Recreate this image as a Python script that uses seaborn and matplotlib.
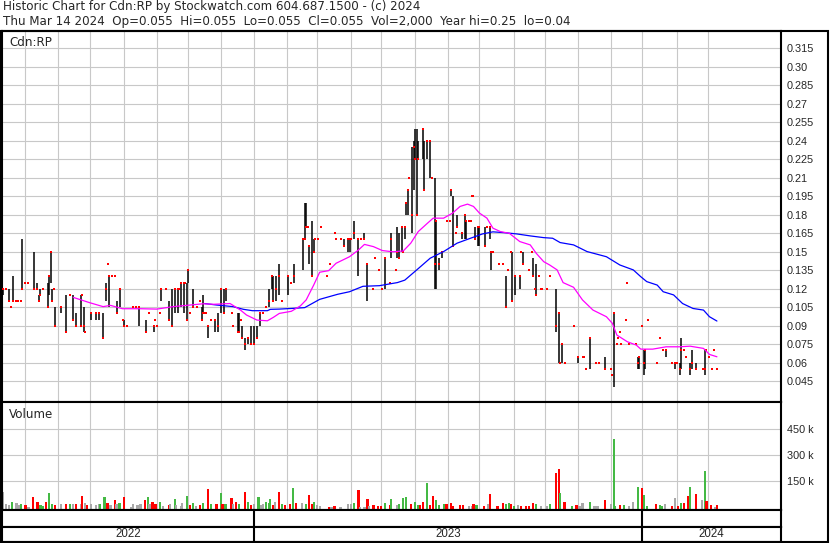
import matplotlib
matplotlib.use("Agg")
import matplotlib.pyplot as plt
import pandas as pd
import seaborn as sns
from matplotlib.patches import Rectangle
from matplotlib.transforms import blended_transform_factory


# window of trading days, day index 0 = start_date
start_date = "2022-05-11"
end_date = "2024-03-14"

header_top = "Historic Chart for Cdn:RP by Stockwatch.com 604.687.1500 - (c) 2024"
header_quote = "Thu Mar 14 2024  Op=0.055  Hi=0.055  Lo=0.055  Cl=0.055  Vol=2,000  Year hi=0.25  lo=0.04"
symbol = "Cdn:RP"
volume_title = "Volume"

# daily bars (only days that traded)
bar_day = [
    0, 2, 4, 5, 7, 9, 10, 12, 13, 15,
    17, 21, 23, 24, 25, 27, 30, 31, 32, 33,
    34, 35, 39, 42, 45, 47, 49, 52, 53, 54,
    55, 59, 62, 64, 67, 69, 70, 71, 73, 75,
    76, 78, 80, 81, 83, 87, 89, 91, 96, 98,
    101, 102, 103, 105, 106, 109, 111, 113, 115, 117,
    118, 119, 121, 122, 123, 124, 125, 127, 130, 132,
    133, 134, 135, 136, 137, 139, 142, 144, 146, 148,
    149, 153, 154, 157, 158, 159, 160, 162, 164, 166,
    168, 170, 172, 174, 176, 178, 180, 181, 183, 185,
    187, 191, 193, 195, 201, 202, 203, 204, 205, 207,
    208, 209, 211, 213, 217, 219, 222, 223, 226, 228,
    231, 232, 233, 235, 238, 240, 242, 244, 248, 249,
    252, 254, 256, 259, 260, 263, 264, 265, 267, 268,
    269, 270, 271, 272, 274, 275, 276, 277, 278, 281,
    282, 284, 286, 287, 289, 290, 292, 294, 297, 299,
    300, 301, 303, 304, 307, 309, 310, 312, 313, 314,
    315, 316, 318, 319, 323, 324, 326, 327, 328, 332,
    335, 337, 338, 340, 341, 343, 346, 347, 348, 352,
    354, 355, 356, 357, 359, 360, 361, 364, 366, 370,
    372, 373, 374, 376, 382, 385, 388, 389, 390, 393,
    397, 399, 403, 407, 408, 409, 411, 412, 413, 414,
    417, 418, 419, 424, 425, 426, 428, 429, 430, 432,
    438, 440, 442, 444, 448, 450, 451, 453, 454, 456,
    457, 460, 461, 464, 469, 470, 471, 473, 475, 476,
    478,
]
bar_high = [
    .12, .12, .12, .105, .13, .11, .11, .11, .16, .125,
    .125, .15, .125, .115, .12, .12, .125, .13, .15, .12,
    .12, .105, .105, .115, .115, .115, .10, .115, .115, .105,
    .085, .10, .10, .10, .10, .125, .14, .13, .13, .13,
    .11, .12, .095, .095, .09, .105, .105, .105, .095, .10,
    .09, .095, .09, .10, .12, .12, .11, .12, .12, .12,
    .12, .125, .125, .125, .125, .135, .10, .12, .105, .11,
    .105, .115, .10, .10, .09, .095, .095, .10, .12, .12,
    .12, .10, .09, .10, .10, .095, .09, .08, .08, .09,
    .09, .09, .10, .10, .105, .12, .13, .13, .13, .14,
    .11, .13, .125, .14, .16, .19, .19, .17, .155, .175,
    .16, .16, .16, .17, .13, .14, .165, .16, .16, .16,
    .16, .16, .16, .175, .16, .16, .165, .14, .12, .145,
    .135, .12, .145, .125, .165, .135, .17, .165, .17, .15,
    .17, .19, .20, .21, .235, .24, .25, .25, .24, .25,
    .24, .24, .24, .21, .21, .175, .145, .15, .175, .175,
    .20, .195, .165, .18, .165, .18, .175, .175, .175, .195,
    .195, .17, .17, .17, .17, .17, .17, .15, .15, .14,
    .14, .13, .135, .15, .15, .13, .13, .15, .15, .135,
    .15, .145, .12, .14, .13, .12, .12, .12, .13, .12,
    .10, .06, .075, .06, .09, .065, .065, .065, .055, .08,
    .06, .06, .065, .055, .05, .10, .075, .08, .085, .075,
    .095, .125, .075, .075, .065, .065, .09, .07, .07, .095,
    .06, .08, .07, .07, .06, .06, .06, .06, .08, .07,
    .065, .06, .07, .06, .055, .07, .07, .065, .055, .07,
    .055,
]
bar_low = [
    .115, .12, .11, .105, .11, .11, .11, .11, .12, .125,
    .125, .12, .12, .11, .115, .12, .105, .115, .125, .11,
    .12, .09, .10, .085, .115, .095, .09, .09, .115, .085,
    .085, .095, .095, .095, .08, .11, .14, .105, .13, .13,
    .10, .105, .095, .09, .09, .105, .105, .09, .085, .10,
    .085, .095, .09, .10, .11, .12, .095, .09, .10, .10,
    .12, .105, .10, .125, .095, .125, .10, .105, .105, .11,
    .095, .10, .10, .10, .08, .095, .085, .085, .10, .10,
    .11, .10, .09, .085, .085, .095, .08, .07, .075, .075,
    .075, .08, .09, .10, .105, .105, .12, .11, .11, .115,
    .11, .115, .125, .125, .135, .16, .17, .17, .14, .13,
    .15, .16, .16, .17, .13, .14, .165, .16, .16, .155,
    .15, .15, .16, .16, .13, .16, .16, .11, .12, .145,
    .135, .12, .12, .125, .145, .135, .145, .145, .15, .15,
    .16, .18, .18, .21, .165, .20, .225, .18, .225, .225,
    .20, .225, .21, .21, .12, .12, .135, .145, .175, .175,
    .195, .155, .165, .17, .16, .16, .16, .175, .175, .195,
    .195, .16, .155, .155, .155, .17, .16, .135, .15, .14,
    .14, .105, .135, .15, .11, .115, .12, .15, .14, .135,
    .15, .13, .12, .115, .13, .12, .12, .12, .13, .085,
    .06, .06, .06, .06, .09, .06, .065, .065, .055, .055,
    .06, .06, .055, .055, .05, .04, .075, .08, .085, .075,
    .095, .125, .075, .075, .055, .055, .09, .05, .055, .095,
    .06, .08, .07, .065, .06, .055, .06, .05, .055, .07,
    .065, .05, .055, .055, .055, .05, .07, .065, .055, .07,
    .055,
]
bar_close = [
    .12, .12, .11, .105, .11, .11, .11, .11, .12, .125,
    .125, .12, .12, .11, .115, .12, .105, .13, .15, .11,
    .12, .09, .105, .085, .115, .095, .09, .09, .115, .09,
    .085, .10, .10, .10, .08, .12, .14, .13, .13, .13,
    .10, .12, .095, .09, .09, .105, .105, .105, .085, .10,
    .09, .095, .09, .10, .12, .12, .095, .09, .12, .12,
    .12, .125, .125, .125, .095, .135, .10, .105, .105, .11,
    .095, .10, .10, .10, .09, .095, .095, .09, .12, .10,
    .12, .10, .09, .085, .085, .095, .08, .075, .08, .075,
    .075, .08, .10, .10, .105, .11, .13, .11, .12, .13,
    .11, .13, .125, .13, .16, .16, .17, .17, .155, .13,
    .15, .16, .16, .17, .13, .14, .165, .16, .16, .155,
    .16, .16, .16, .165, .16, .16, .16, .14, .12, .145,
    .135, .12, .145, .125, .16, .135, .15, .145, .17, .15,
    .17, .19, .20, .21, .18, .235, .225, .18, .225, .25,
    .20, .24, .24, .21, .14, .175, .14, .15, .175, .175,
    .20, .155, .165, .17, .165, .18, .175, .175, .175, .195,
    .195, .16, .17, .17, .155, .17, .17, .15, .15, .14,
    .14, .105, .135, .15, .11, .13, .13, .15, .14, .135,
    .15, .13, .12, .115, .13, .12, .12, .12, .13, .09,
    .10, .06, .075, .06, .09, .065, .065, .065, .055, .08,
    .06, .06, .055, .055, .05, .10, .075, .08, .085, .075,
    .095, .125, .075, .075, .06, .065, .09, .06, .07, .095,
    .06, .08, .07, .07, .06, .06, .06, .055, .07, .07,
    .065, .055, .06, .055, .055, .055, .07, .065, .055, .07,
    .055,
]

# moving averages (pink = short, blue = long)
ma_short_day = [
    47, 58, 67, 72, 80, 92, 103, 114, 127, 134,
    141, 152, 159, 163, 170, 177, 181, 185, 193, 199,
    203, 208, 212, 218, 223, 232, 238, 242, 248, 254,
    261, 268, 273, 278, 284, 288, 295, 301, 306, 311,
    315, 319, 324, 328, 333, 339, 346, 353, 357, 362,
    366, 371, 375, 382, 388, 395, 404, 408, 411, 418,
    424, 427, 435, 444, 453, 460, 469, 473, 478,
]
ma_short = [
    .113, .1087, .1055, .1065, .1038, .1038, .1035, .1055, .107, .1078,
    .1074, .108, .1027, .0987, .0946, .094, .0968, .100, .1017, .106,
    .111, .123, .1334, .1347, .1407, .146, .1515, .156, .1542, .151,
    .150, .1507, .157, .1664, .173, .1773, .1773, .1814, .1868, .1887,
    .1868, .1814, .1773, .1692, .1664, .165, .1583, .1556, .1488, .142,
    .1393, .1353, .125, .1212, .1109, .1027, .0973, .0919, .0824, .077,
    .0743, .071, .071, .0729, .0729, .0734, .0716, .0667, .0648,
]
ma_long_day = [
    135, 143, 154, 161, 167, 177, 179, 185, 193, 202,
    212, 224, 232, 241, 252, 264, 269, 277, 286, 295,
    304, 313, 321, 328, 335, 344, 353, 362, 368, 373,
    382, 391, 404, 413, 422, 427, 431, 438, 442, 449,
    455, 462, 469, 473, 478,
]
ma_long = [
    .108, .1068, .1055, .1033, .1022, .1022, .1033, .1035, .104, .1047,
    .1114, .1155, .1176, .122, .1225, .125, .127, .1353, .1448, .1502,
    .157, .161, .1645, .1662, .1656, .1645, .1629, .1615, .161, .1575,
    .1556, .1502, .146, .1393, .1353, .1298, .1258, .123, .1176, .115,
    .108, .104, .1027, .0973, .0938,
]

# volume in thousands of shares; u = up day, d = down day, n = unchanged
vol_day = [
    0, 2, 4, 6, 9, 11, 12, 15, 17, 20,
    23, 25, 27, 29, 31, 33, 35, 39, 42, 45,
    47, 49, 52, 53, 55, 56, 59, 62, 64, 65,
    68, 70, 72, 75, 76, 78, 81, 86, 87, 90,
    92, 95, 97, 98, 100, 102, 105, 107, 111, 112,
    115, 116, 119, 120, 123, 125, 127, 129, 132, 134,
    137, 139, 143, 146, 147, 149, 153, 154, 156, 158,
    162, 164, 166, 168, 171, 173, 174, 176, 178, 179,
    181, 182, 185, 187, 189, 192, 194, 196, 200, 203,
    205, 207, 208, 210, 212, 218, 220, 222, 226, 231,
    233, 235, 238, 239, 242, 244, 245, 248, 251, 253,
    256, 259, 260, 264, 265, 268, 270, 273, 276, 278,
    279, 281, 284, 286, 288, 290, 292, 295, 297, 300,
    301, 306, 308, 312, 314, 315, 317, 322, 325, 326,
    331, 335, 337, 339, 340, 342, 345, 347, 350, 352,
    355, 357, 360, 364, 366, 370, 372, 373, 376, 381,
    384, 386, 388, 393, 396, 398, 403, 407, 409, 410,
    413, 416, 419, 422, 425, 428, 429, 431, 437, 440,
    441, 443, 448, 450, 452, 454, 456, 459, 460, 464,
    468, 470, 471, 474, 477, 478,
]
vol_k = [
    85, 17, 10, 33, 23, 10, 20, 10, 4, 58,
    33, 13, 6, 33, 81, 20, 13, 17, 17, 17,
    19, 20, 17, 63, 27, 13, 17, 11, 20, 17,
    58, 27, 13, 40, 17, 23, 58, 4, 17, 13,
    19, 40, 58, 17, 33, 17, 33, 8, 10, 17,
    46, 10, 8, 23, 63, 13, 23, 8, 13, 27,
    104, 17, 17, 81, 17, 20, 52, 17, 33, 20,
    87, 33, 13, 17, 58, 10, 17, 33, 27, 48,
    13, 33, 87, 17, 10, 20, 110, 23, 27, 17,
    71, 17, 33, 10, 8, 4, 4, 6, 4, 17,
    17, 25, 98, 4, 4, 46, 6, 10, 6, 6,
    23, 10, 46, 10, 17, 52, 58, 17, 33, 10,
    10, 33, 138, 10, 67, 40, 10, 17, 17, 23,
    8, 10, 10, 8, 8, 17, 10, 6, 17, 75,
    6, 23, 17, 23, 17, 8, 10, 8, 8, 6,
    23, 17, 8, 8, 17, 196, 219, 81, 29, 8,
    10, 8, 23, 29, 8, 6, 40, 17, 392, 8,
    12, 12, 8, 29, 115, 110, 69, 6, 20, 12,
    6, 17, 6, 52, 8, 23, 23, 65, 115, 75,
    40, 209, 35, 13, 4, 12,
]
vol_dir = [
    "n", "n", "n", "u", "n", "n", "u", "d", "n", "d",
    "d", "u", "u", "d", "u", "u", "d", "n", "d", "u",
    "n", "d", "n", "d", "n", "d", "n", "n", "n", "u",
    "u", "d", "n", "d", "n", "u", "d", "n", "n", "n",
    "n", "d", "u", "n", "d", "d", "u", "n", "d", "n",
    "u", "n", "n", "n", "u", "d", "u", "n", "d", "u",
    "d", "u", "d", "u", "d", "u", "d", "n", "d", "u",
    "d", "u", "d", "n", "u", "n", "n", "u", "u", "u",
    "d", "n", "d", "u", "d", "d", "u", "d", "n", "u",
    "d", "d", "u", "n", "n", "d", "n", "d", "n", "n",
    "n", "u", "d", "n", "n", "d", "n", "d", "d", "d",
    "u", "d", "u", "n", "u", "u", "u", "d", "u", "u",
    "d", "d", "u", "d", "d", "u", "u", "u", "d", "d",
    "d", "d", "d", "n", "n", "d", "u", "d", "n", "d",
    "d", "d", "u", "u", "d", "u", "n", "d", "d", "d",
    "d", "u", "n", "n", "u", "d", "d", "u", "d", "u",
    "d", "n", "n", "u", "n", "n", "d", "n", "u", "u",
    "d", "u", "n", "n", "u", "d", "u", "u", "d", "u",
    "u", "n", "d", "n", "d", "u", "d", "d", "u", "d",
    "n", "u", "d", "d", "n", "d",
]

price_ticks = [0.045, 0.06, 0.075, 0.09, 0.105, 0.12, 0.135, 0.15, 0.165, 0.18,
               0.195, 0.21, 0.225, 0.24, 0.255, 0.27, 0.285, 0.30, 0.315]
price_labels = ["0.045", "0.06", "0.075", "0.09", "0.105", "0.12", "0.135", "0.15", "0.165", "0.18",
                "0.195", "0.21", "0.225", "0.24", "0.255", "0.27", "0.285", "0.30", "0.315"]
volume_ticks = [150, 300, 450]
volume_labels = ["150 k", "300 k", "450 k"]

W, H = 830, 543


def box(x0, y0, x1, y1):
    # pixel box measured from the top-left corner -> figure fraction rect
    return [x0 / W, 1 - y1 / H, (x1 - x0) / W, (y1 - y0) / H]


def main() -> None:
    assert len(bar_day) == len(bar_high) == len(bar_low) == len(bar_close)
    assert len(vol_day) == len(vol_k) == len(vol_dir)
    assert len(ma_short_day) == len(ma_short) and len(ma_long_day) == len(ma_long)

    sns.set_style("white")
    plt.rcParams["font.family"] = ["Liberation Sans", "DejaVu Sans"]

    dates = pd.bdate_range(start_date, end_date)
    months = [i for i in range(1, len(dates)) if dates[i].month != dates[i - 1].month]
    years = [i for i in months if dates[i].month == 1]
    x_min, x_max = -0.7, 520.9

    fig = plt.figure(figsize=(W / 100, H / 100), dpi=100)
    ax_p = fig.add_axes(box(2, 31, 781, 401.5))
    ax_v = fig.add_axes(box(2, 401.5, 781, 510))
    ax_m = fig.add_axes(box(2, 510, 781, 526.5))
    ax_y = fig.add_axes(box(2, 526.5, 781, 541.5))

    bars = pd.DataFrame({"day": bar_day, "high": bar_high, "low": bar_low, "close": bar_close})
    ranged = bars[bars["high"] > bars["low"]]
    ax_p.vlines(ranged["day"], ranged["low"], ranged["high"], color="black", linewidth=1.1, zorder=2)
    sns.scatterplot(data=bars, x="day", y="close", marker="s", color="#ff0000", s=4.5,
                    linewidth=0, ax=ax_p, zorder=3)
    sns.lineplot(x=ma_long_day, y=ma_long, color="#0000ff", linewidth=0.9, ax=ax_p, zorder=4)
    sns.lineplot(x=ma_short_day, y=ma_short, color="#ff00ff", linewidth=0.9, ax=ax_p, zorder=4)

    vol = pd.DataFrame({"day": vol_day, "k": vol_k, "dir": vol_dir})
    vol_floor = -16
    colours = vol["dir"].map({"u": "#44b944", "d": "#ff0000", "n": "#a8a8a8"})
    ax_v.bar(vol["day"], vol["k"] - vol_floor, bottom=vol_floor, width=1.5,
             color=colours, linewidth=0, zorder=2)

    for ax in (ax_p, ax_v, ax_m, ax_y):
        ax.set_xlim(x_min, x_max)
        ax.set_xticks(months)
        ax.tick_params(axis="x", length=0, labelbottom=False)
        ax.set_xlabel("")
        ax.set_ylabel("")
        for spine in ax.spines.values():
            spine.set_visible(True)
            spine.set_color("black")
            spine.set_linewidth(1.5)
    for ax in (ax_p, ax_v):
        ax.grid(True, color="#c8c8c8", linewidth=0.8)
        ax.set_axisbelow(True)
        ax.yaxis.tick_right()
        ax.tick_params(axis="y", length=0, pad=4, labelsize=7.8)

    ax_p.set_ylim(0.0285, 0.3292)
    ax_p.set_yticks(price_ticks)
    ax_p.set_yticklabels(price_labels)
    ax_v.set_ylim(vol_floor, 610)
    ax_v.set_yticks(volume_ticks)
    ax_v.set_yticklabels(volume_labels)

    for ax in (ax_m, ax_y):
        ax.set_yticks([])
        ax.set_ylim(0, 1)
        ax.set_xticks([])
        for b in years:
            ax.axvline(b, color="black", linewidth=1.5)

    bounds = [x_min] + years + [x_max]
    year_names = [dates[0].year] + [dates[i].year for i in years]
    trans = blended_transform_factory(ax_y.transData, ax_y.transAxes)
    for left, right, name in zip(bounds[:-1], bounds[1:], year_names):
        ax_y.text((left + right) / 2, 0.5, str(name), transform=trans,
                  ha="center", va="center", fontsize=8.3)

    text_font = ["DejaVu Sans"]
    fig.text(3 / W, 1 - 10 / H, header_top, fontsize=8.6, family=text_font, va="baseline")
    fig.text(3 / W, 1 - 25 / H, header_quote, fontsize=8.6, family=text_font, va="baseline")
    fig.text(9 / W, 1 - 45.5 / H, symbol, fontsize=8.6, family=text_font, va="baseline")
    fig.text(9 / W, 1 - 418 / H, volume_title, fontsize=8.6, family=text_font, va="baseline")

    fig.add_artist(Rectangle((1 / W, 1 - 541.5 / H), 826.5 / W, 511 / H,
                             transform=fig.transFigure, fill=False,
                             edgecolor="black", linewidth=1.5))

    fig.savefig("out.png", dpi=100)
    plt.close(fig)


if __name__ == "__main__":
    main()
